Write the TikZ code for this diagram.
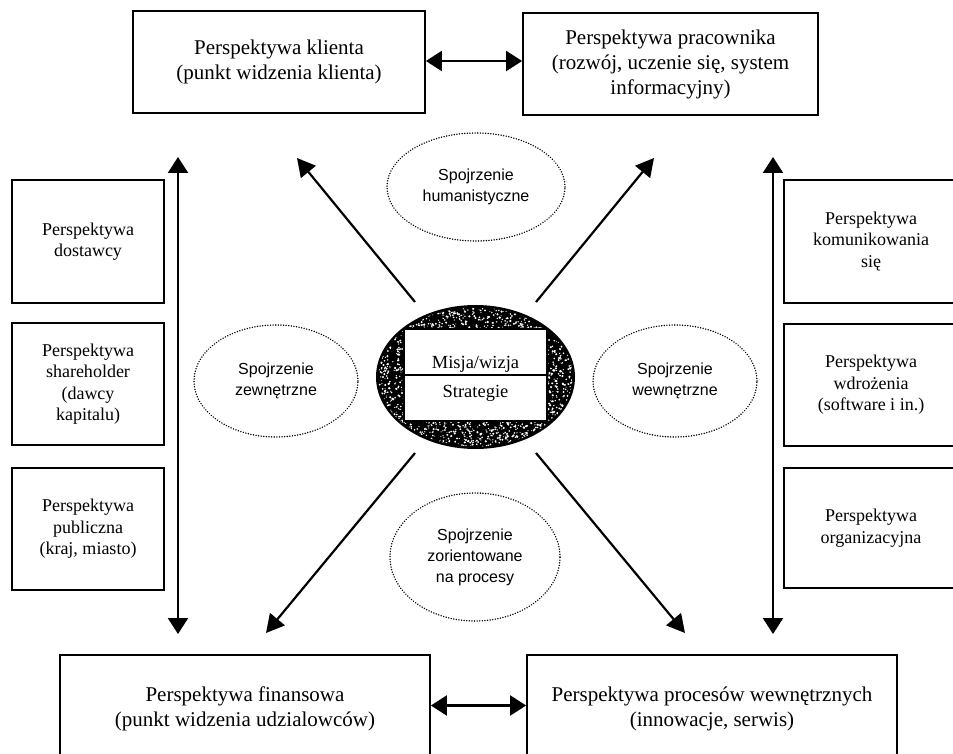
\documentclass[tikz,border=0pt]{standalone}
\usepackage{fontspec}
\setmainfont{Liberation Serif}
\newfontfamily\ellfont{Liberation Sans}
\usetikzlibrary{arrows.meta,shapes.geometric}
\begin{document}
\begin{tikzpicture}[x=1pt,y=-1pt,
  box/.style={draw, line width=1.8pt, rectangle, align=center, inner sep=0pt,
    font=\fontsize{21}{25}\selectfont},
  sbox/.style={box, font=\fontsize{18}{21.5}\selectfont},
  view/.style={draw, ellipse, line width=1.6pt, line cap=round,
    dash pattern=on 0.01pt off 2.6pt, align=center, inner sep=0pt,
    font=\ellfont\fontsize{16}{21}\selectfont},
  arr/.style={line width=2.2pt, -{Triangle[length=18pt,width=19pt]}},
  darr/.style={line width=2.2pt, {Triangle[length=16pt,width=20pt]}-{Triangle[length=16pt,width=20pt]}},
  cell/.style={draw, line width=1.5pt, fill=white, rectangle, inner sep=0pt,
    minimum width=143pt, minimum height=46pt, font=\fontsize{18.5}{22}\selectfont},
]
\useasboundingbox (0,0) rectangle (953,754);

% top boxes
\node[box, minimum width=292pt, minimum height=102pt] (klient) at (279,62)
  {Perspektywa klienta\\(punkt widzenia klienta)};
\node[box, minimum width=295pt, minimum height=102pt] (prac) at (670.5,64)
  {Perspektywa pracownika\\(rozwój, uczenie się, system\\informacyjny)};
\draw[darr] ([yshift=1pt]klient.east) -- ([yshift=1pt]klient.east -| prac.west);

% left column
\node[sbox, minimum width=152pt, minimum height=123pt] (dost) at (88,241.5)
  {Perspektywa\\dostawcy};
\node[sbox, minimum width=152pt, minimum height=122pt] (share) at (88,384)
  {Perspektywa\\shareholder\\(dawcy\\kapitalu)};
\node[sbox, minimum width=152pt, minimum height=122pt] (publ) at (88,529)
  {Perspektywa\\publiczna\\(kraj, miasto)};
\coordinate (lt) at (178,157);
\coordinate (lb) at (178,634);
\draw[darr] (lb) -- (lt);

% right column
\node[sbox, minimum width=174pt, minimum height=123pt] (kom) at (871,241.5)
  {Perspektywa\\komunikowania\\się};
\node[sbox, minimum width=174pt, minimum height=122pt] (wdr) at (871,385)
  {Perspektywa\\wdrożenia\\(software i in.)};
\node[sbox, minimum width=174pt, minimum height=120pt] (org) at (871,528)
  {Perspektywa\\organizacyjna};
\coordinate (rt) at (773,157);
\coordinate (rb) at (773,634);
\draw[darr] (rb) -- (rt);

% bottom boxes
\node[box, minimum width=370pt, minimum height=107pt] (fin) at (245,708.5)
  {Perspektywa finansowa\\(punkt widzenia udzialowców)};
\node[box, minimum width=370pt, minimum height=107pt] (proc) at (712,708.5)
  {Perspektywa procesów wewnętrznych\\(innowacje, serwis)};
\draw[darr] ([yshift=3pt]fin.east) -- ([yshift=3pt]proc.west);

% dotted view ellipses
\node[view, minimum width=178pt, minimum height=108pt] (hum) at (476,187)
  {Spojrzenie\\humanistyczne};
\node[view, minimum width=164pt, minimum height=112pt] (zew) at (276,381)
  {Spojrzenie\\zewnętrzne};
\node[view, minimum width=164pt, minimum height=112pt] (wew) at (675,381)
  {Spojrzenie\\wewnętrzne};
\node[view, minimum width=170pt, minimum height=128pt] (zor) at (475,557)
  {Spojrzenie\\zorientowane\\na procesy};

% central ellipse with speckled fill
\node[draw, ellipse, line width=2pt, fill=black, inner sep=0pt,
  minimum width=197pt, minimum height=142pt] (core) at (475.5,377) {};
\begin{scope}
  \clip (475.5,377) ellipse [x radius=97, y radius=69.5];
  \pgfmathsetseed{11}
  \foreach \k in {1,...,2800} {
    \pgfmathsetmacro\px{475.5+99*rand}
    \pgfmathsetmacro\py{377+71*rand}
    \pgfmathsetmacro\pr{0.45+0.75*rnd}
    \fill[white] (\px,\py) circle (\pr pt);
  }
\end{scope}
\node[cell, text height=32pt, text depth=0pt] (misja) at (475.5,352) {Misja/wizja};
\node[cell, text height=13pt, text depth=15pt] (strat) at (475.5,398) {Strategie};

% diagonal arrows
\coordinate (ul0) at (415,302); \coordinate (ul1) at (297,158);
\coordinate (ur0) at (536,302); \coordinate (ur1) at (654,158);
\coordinate (ll0) at (415,453); \coordinate (ll1) at (266,633);
\coordinate (lr0) at (536,453); \coordinate (lr1) at (685,633);
\draw[arr] (ul0) -- (ul1);
\draw[arr] (ur0) -- (ur1);
\draw[arr] (ll0) -- (ll1);
\draw[arr] (lr0) -- (lr1);
\end{tikzpicture}
\end{document}
